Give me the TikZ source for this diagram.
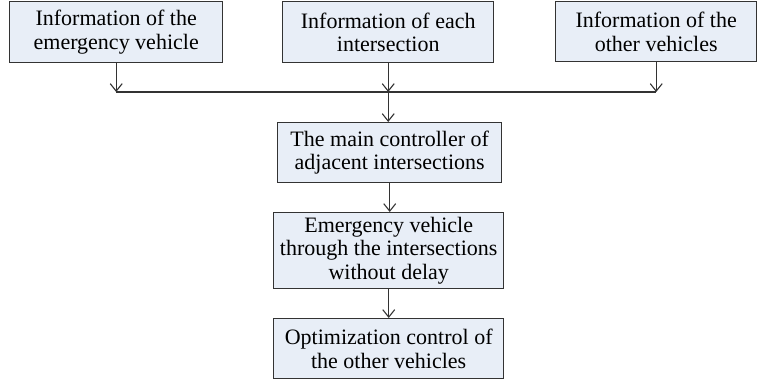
\documentclass[tikz,border=0pt]{standalone}
\usepackage{fontspec}
\setmainfont{Liberation Serif}
\usetikzlibrary{arrows.meta}
\definecolor{boxfill}{HTML}{E8EEF7}
\definecolor{linec}{HTML}{333333}
\tikzset{
  box/.style={draw=linec, line width=1.4pt, fill=boxfill, inner sep=0pt, align=center,
    font=\fontsize{22}{23.5}\selectfont, anchor=north west},
  conn/.style={draw=linec, line width=1.3pt, -{Straight Barb[length=7.5pt,width=12pt,line width=1.1pt]}},
  plain/.style={draw=linec, line width=1.3pt}
}
\begin{document}
\begin{tikzpicture}[x=1pt,y=-1pt]
\useasboundingbox (0,0) rectangle (757,383);
\node[box, minimum width=213pt, minimum height=61pt] (a) at (9,1) {Information of the\\emergency vehicle};
\node[box, minimum width=211pt, minimum height=61pt] (b) at (282,1) {Information of each\\intersection};
\node[box, minimum width=201pt, minimum height=60pt] (c) at (555,1) {Information of the\\other vehicles};
\node[box, minimum width=224pt, minimum height=60pt] (d) at (277,122) {The main controller of\\adjacent intersections};
\node[box, minimum width=230pt, minimum height=76pt] (e) at (273,212) {Emergency vehicle\\through the intersections\\without delay};
\node[box, minimum width=230pt, minimum height=60pt] (f) at (273,318) {Optimization control of\\the other vehicles};
\coordinate (ja) at (a.south |- 0,92);
\coordinate (jb) at (b.south |- 0,92);
\coordinate (jc) at (c.south |- 0,92);
\draw[plain] (ja) -- (jc);
\draw[conn] (a.south) -- (ja);
\draw[conn] (b.south) -- (jb);
\draw[conn] (c.south) -- (jc);
\draw[conn] (jb) -- (jb |- d.north);
\draw[conn] (d.south) -- (d.south |- e.north);
\draw[conn] (e.south) -- (e.south |- f.north);
\end{tikzpicture}
\end{document}
